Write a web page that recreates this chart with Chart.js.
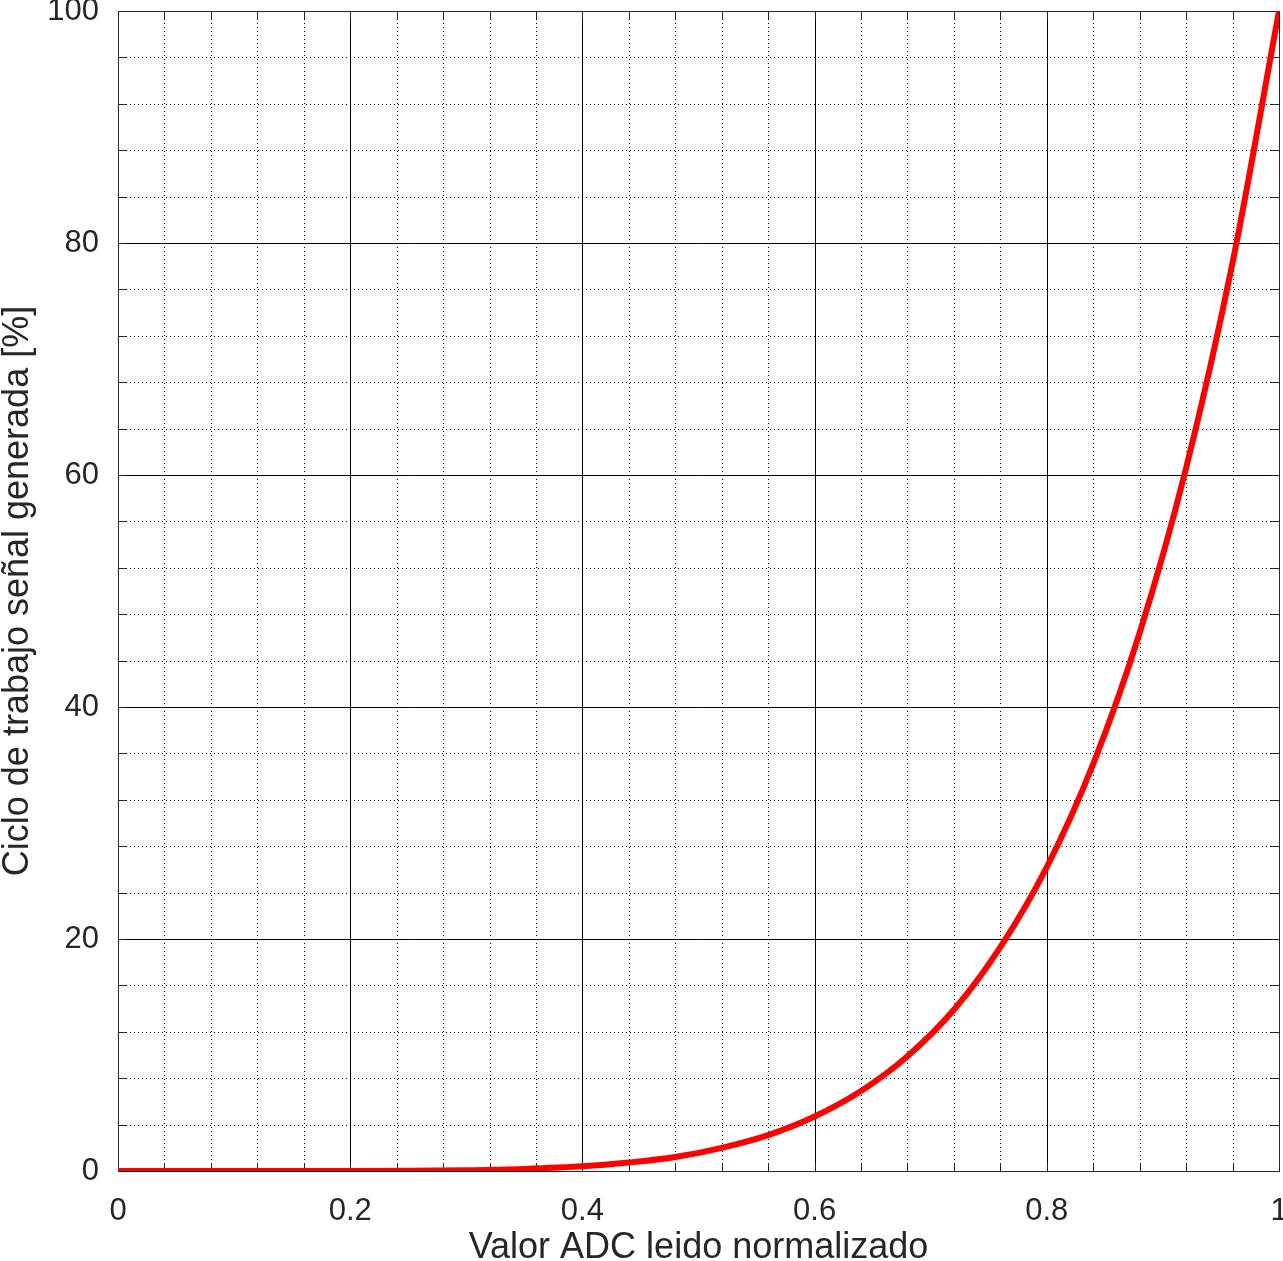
<!DOCTYPE html>
<html>
<head>
<meta charset="utf-8">
<script src="https://cdn.jsdelivr.net/npm/chart.js@4.4.1/dist/chart.umd.min.js"></script>
<style>
    html, body { margin: 0; padding: 0; background: #fff; }
    #wrap { width: 1283px; height: 1261px; }
</style>
</head>
<body>
<div id="wrap"><canvas id="chart"></canvas></div>
<script>
// Values
const adcValues = [0, 0.1, 0.2, 0.25, 0.3, 0.35, 0.4, 0.44, 0.48, 0.52, 0.56, 0.6, 0.64, 0.68, 0.72, 0.76, 0.8, 0.84, 0.88, 0.92, 0.96, 1.0];
const dutyValues = [0, 0, 0.01, 0.02, 0.07, 0.18, 0.4, 0.73, 1.2, 2.0, 3.1, 4.7, 6.9, 9.9, 13.9, 19.3, 26.2, 35.1, 46.4, 60.6, 78.3, 100];
const xMajorTicks = [0, 0.2, 0.4, 0.6, 0.8, 1];
const yMajorTicks = [0, 20, 40, 60, 80, 100];

const FONT = "'Liberation Sans', Arial, Helvetica, sans-serif";
const TEXT = "#262626";

const isMajor = (v, step) => Math.abs(v / step - Math.round(v / step)) < 1e-6;

// gnuplot-like grid: solid majors, dotted minors, closed box, inward ticks
const gridPlugin = {
    id: "gridPlugin",
    beforeDatasetsDraw(chart) {
        const { ctx, chartArea: a } = chart;
        const xs = chart.scales.x, ys = chart.scales.y;
        ctx.save();
        ctx.lineWidth = 1;
        ctx.strokeStyle = "#000";
        const line = (x1, y1, x2, y2) => {
            ctx.beginPath();
            ctx.moveTo(x1, y1);
            ctx.lineTo(x2, y2);
            ctx.stroke();
        };
        xs.ticks.forEach(t => {
            const px = Math.round(xs.getPixelForValue(t.value)) + 0.5;
            ctx.setLineDash(isMajor(t.value, 0.2) ? [] : [1, 3]);
            line(px, a.top, px, a.bottom);
        });
        ys.ticks.forEach(t => {
            const py = Math.round(ys.getPixelForValue(t.value)) + 0.5;
            ctx.setLineDash(isMajor(t.value, 20) ? [] : [1, 3]);
            line(a.left, py, a.right, py);
        });
        ctx.setLineDash([]);
        ctx.strokeStyle = "#262626";
        ctx.strokeRect(Math.round(a.left) + 0.5, Math.round(a.top) + 0.5,
            Math.round(a.right - a.left), Math.round(a.bottom - a.top));
        xs.ticks.forEach(t => {
            const px = Math.round(xs.getPixelForValue(t.value)) + 0.5;
            line(px, a.bottom, px, a.bottom - 8);
            line(px, a.top, px, a.top + 8);
        });
        ys.ticks.forEach(t => {
            const py = Math.round(ys.getPixelForValue(t.value)) + 0.5;
            line(a.left, py, a.left + 8, py);
            line(a.right, py, a.right - 8, py);
        });
        ctx.restore();
    },
};

new Chart(document.getElementById("chart"), {
    type: "line",
    data: {
        datasets: [{
            data: adcValues.map((x, i) => ({ x, y: dutyValues[i] })),
            borderColor: "#ff0000",
            borderWidth: 6,
            pointRadius: 0,
            cubicInterpolationMode: "monotone",
            fill: false,
        }],
    },
    options: {
        responsive: true,
        maintainAspectRatio: false,
        animation: false,
        layout: { padding: { top: 11, right: 4, left: 0, bottom: 0 } },
        plugins: { legend: { display: false }, tooltip: { enabled: false } },
        scales: {
            x: {
                type: "linear",
                min: 0,
                max: 1,
                grid: { display: false, drawTicks: false },
                border: { display: false },
                afterBuildTicks: s => {
                    s.ticks = [];
                    for (let i = 0; i <= 25; i++) s.ticks.push({ value: i * 0.04 });
                },
                afterFit: s => {
                    s.height = 90;
                    s.paddingLeft = 0;
                    s.paddingRight = 0;
                },
                ticks: {
                    autoSkip: false,
                    maxRotation: 0,
                    padding: 22,
                    color: TEXT,
                    font: { family: FONT, size: 31 },
                    callback: v => xMajorTicks.find(m => Math.abs(m - v) < 1e-6) !== undefined
                        ? String(Math.round(v * 10) / 10) : "",
                },
                title: {
                    display: true,
                    text: "Valor ADC leido normalizado",
                    color: TEXT,
                    font: { family: FONT, size: 36, lineHeight: 1 },
                    padding: { top: 0, bottom: -5 },
                },
            },
            y: {
                min: 0,
                max: 100,
                grid: { display: false, drawTicks: false },
                border: { display: false },
                afterBuildTicks: s => {
                    s.ticks = [];
                    for (let i = 0; i <= 25; i++) s.ticks.push({ value: i * 4 });
                },
                afterFit: s => {
                    s.width = 118;
                    s.paddingTop = 0;
                    s.paddingBottom = 0;
                },
                ticks: {
                    autoSkip: false,
                    padding: 19,
                    color: TEXT,
                    font: { family: FONT, size: 31 },
                    callback: v => yMajorTicks.includes(v) ? String(v) : "",
                },
                title: {
                    display: true,
                    text: "Ciclo de trabajo señal generada [%]",
                    color: TEXT,
                    font: { family: FONT, size: 36, lineHeight: 1 },
                    padding: { top: 0, bottom: 0 },
                },
            },
        },
    },
    plugins: [gridPlugin],
});
</script>
</body>
</html>
